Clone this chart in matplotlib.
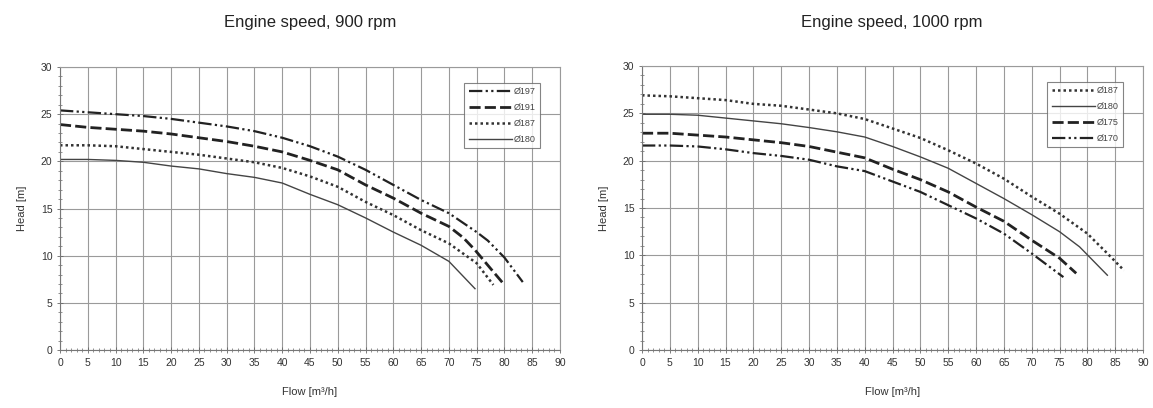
import matplotlib
matplotlib.use("Agg")
import matplotlib.pyplot as plt
from matplotlib.ticker import MultipleLocator

plt.rcParams['font.family'] = ['Liberation Sans', 'DejaVu Sans']

# ---- data: 900 rpm ----
q197 = [0, 5, 10, 15, 20, 25, 30, 35, 40, 45, 50, 55, 60, 65, 70, 75, 77, 80, 83.3]
h197 = [25.4, 25.2, 25.0, 24.8, 24.5, 24.1, 23.7, 23.2, 22.5, 21.6, 20.5, 19.1, 17.5, 15.9, 14.5, 12.5, 11.6, 9.8, 7.2]
q191 = [0, 5, 10, 15, 20, 25, 30, 35, 40, 45, 50, 55, 60, 65, 70, 72.6, 74.7, 77.7, 80]
h191 = [23.9, 23.6, 23.4, 23.2, 22.9, 22.5, 22.1, 21.6, 21.0, 20.1, 19.1, 17.5, 16.1, 14.5, 13.1, 11.9, 10.6, 8.5, 6.9]
q187a = [0, 5, 10, 15, 20, 25, 30, 35, 40, 45, 50, 55, 60, 65, 70, 75, 78]
h187a = [21.7, 21.7, 21.6, 21.3, 21.0, 20.7, 20.3, 19.9, 19.3, 18.4, 17.3, 15.7, 14.3, 12.7, 11.3, 9.2, 6.9]
q180a = [0, 5, 10, 15, 20, 25, 30, 35, 40, 45, 50, 55, 60, 65, 70, 74.7]
h180a = [20.2, 20.2, 20.1, 19.9, 19.5, 19.2, 18.7, 18.3, 17.7, 16.5, 15.4, 14.0, 12.5, 11.1, 9.4, 6.5]

# ---- data: 1000 rpm ----
q187b = [0, 5, 10, 15, 20, 25, 30, 35, 40, 45, 50, 55, 60, 65, 70, 75, 80, 83.6, 86.6]
h187b = [26.9, 26.8, 26.6, 26.4, 26.0, 25.8, 25.4, 25.0, 24.4, 23.4, 22.4, 21.1, 19.7, 18.1, 16.2, 14.4, 12.3, 10.2, 8.4]
q180b = [0, 5, 10, 15, 20, 25, 30, 35, 40, 45, 50, 55, 60, 65, 70, 75, 78.6, 83.6]
h180b = [24.9, 24.9, 24.8, 24.5, 24.2, 23.9, 23.5, 23.05, 22.5, 21.5, 20.4, 19.2, 17.6, 16.0, 14.3, 12.5, 10.9, 7.9]
q175 = [0, 5, 10, 15, 20, 25, 30, 35, 40, 45, 50, 55, 60, 65, 70, 75, 78]
h175 = [22.9, 22.9, 22.7, 22.5, 22.2, 21.9, 21.5, 20.9, 20.3, 19.1, 18.0, 16.7, 15.1, 13.6, 11.6, 9.7, 8.1]
q170 = [0, 5, 10, 15, 20, 25, 30, 35, 40, 45, 50, 55, 60, 65, 70, 75.7]
h170 = [21.6, 21.6, 21.5, 21.2, 20.8, 20.5, 20.1, 19.4, 18.9, 17.8, 16.7, 15.3, 13.9, 12.3, 10.2, 7.7]

titles = ["Engine speed, 900 rpm", "Engine speed, 1000 rpm"]
labels_a = ["Ø197", "Ø191", "Ø187", "Ø180"]
labels_b = ["Ø187", "Ø180", "Ø175", "Ø170"]

styles = {
    "dashdotdot": dict(color="#222222", lw=1.6, ls=(0, (6, 1.5, 1, 1.5, 1, 1.5))),
    "dashed": dict(color="#222222", lw=2.0, ls=(0, (4, 1.5))),
    "dotted": dict(color="#333333", lw=1.8, ls=(0, (1, 1.2))),
    "solid": dict(color="#444444", lw=1.0, ls="-"),
}

fig = plt.figure(figsize=(11.53, 4.08), dpi=100)
ax1 = fig.add_axes([60/1153, 58/408, 500/1153, 283/408])
ax2 = fig.add_axes([642/1153, 58/408, 501/1153, 284/408])

series_a = [(q197, h197, "dashdotdot"), (q191, h191, "dashed"), (q187a, h187a, "dotted"), (q180a, h180a, "solid")]
series_b = [(q187b, h187b, "dotted"), (q180b, h180b, "solid"), (q175, h175, "dashed"), (q170, h170, "dashdotdot")]

for ax, series, labels, title, cx in [(ax1, series_a, labels_a, titles[0], 310), (ax2, series_b, labels_b, titles[1], 892)]:
    for (q, h, st), lab in zip(series, labels):
        ax.plot(q, h, label=lab, **styles[st])
    ax.set_xlim(0, 90)
    ax.set_ylim(0, 30)
    ax.xaxis.set_major_locator(MultipleLocator(5))
    ax.yaxis.set_major_locator(MultipleLocator(5))
    ax.xaxis.set_minor_locator(MultipleLocator(1))
    ax.yaxis.set_minor_locator(MultipleLocator(1))
    ax.grid(True, which="major", color="#9a9a9a", lw=0.8)
    ax.set_axisbelow(True)
    ax.tick_params(which="both", direction="inout", labelsize=7.5, colors="#666666", labelcolor="#333333")
    ax.tick_params(which="major", length=4, width=0.6)
    ax.tick_params(which="minor", length=3, width=0.5)
    for side in ["top", "right"]:
        ax.spines[side].set_color("#9a9a9a")
    for side in ["left", "bottom"]:
        ax.spines[side].set_color("#777777")
    ax.set_xlabel("Flow [m³/h]", fontsize=8, color="#333333", labelpad=14)
    ax.set_ylabel("Head [m]", fontsize=8, color="#333333", labelpad=10)
    leg = ax.legend(loc="upper right", bbox_to_anchor=(0.97, 0.96), fontsize=6.5, handlelength=4.8,
                    handletextpad=0.2, frameon=True, fancybox=False, borderpad=0.5, labelspacing=0.75,
                    edgecolor="#666666")
    leg.get_frame().set_linewidth(0.8)
    for t in leg.get_texts():
        t.set_color("#444444")
    fig.text(cx/1153, 1 - 22/408, title, ha="center", va="center", fontsize=12, color="#222222")

fig.savefig("out.png", dpi=100)
